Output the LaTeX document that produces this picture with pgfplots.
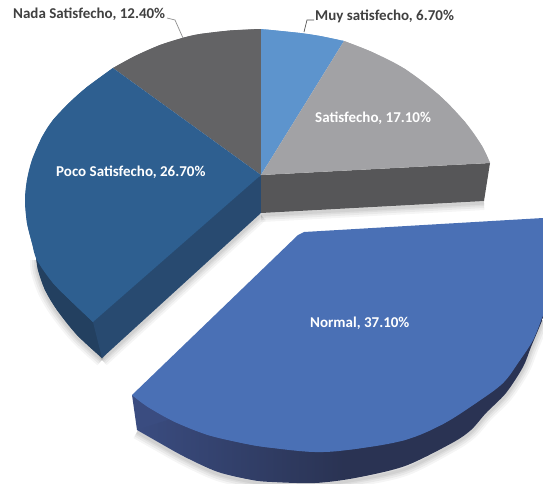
\documentclass[border=0pt]{standalone}
\usepackage{pgfplots}
\pgfplotsset{compat=1.18}
\usepackage{fontspec}
\setmainfont{Carlito}
\definecolor{muy}{HTML}{5D94CD}
\definecolor{sat}{HTML}{A2A2A5}
\definecolor{satside}{HTML}{565658}
\definecolor{nada}{HTML}{636365}
\definecolor{poco}{HTML}{2E5F90}
\definecolor{pocofront}{HTML}{284A70}
\definecolor{pocoside}{HTML}{234060}
\definecolor{norm}{HTML}{4A70B5}
\definecolor{normA}{HTML}{3A4C80}
\definecolor{normB}{HTML}{2A3353}
\definecolor{leader}{HTML}{8A8A8A}
% one slice: straight part plus a smooth fill over the arc
\newcommand{\slice}[3]{%
  \addplot[fill=#1, draw=none] coordinates {#2 #3};
  \addplot[fill=#1, draw=none, smooth, tension=0.6] coordinates {#3};}
% soft shadow along an edge
\newcommand{\soft}[2][]{%
  \addplot[draw=black, opacity=0.05, line width=3pt, #1] coordinates {#2};
  \addplot[draw=black, opacity=0.05, line width=6pt, #1] coordinates {#2};
  \addplot[draw=black, opacity=0.05, line width=10pt, #1] coordinates {#2};
  \addplot[draw=black, opacity=0.04, line width=14pt, #1] coordinates {#2};}
\tikzset{lab/.style={anchor=west, inner sep=0pt, font=\fontsize{15}{18}\selectfont\bfseries}}
\begin{document}
\begin{tikzpicture}
\useasboundingbox (0,0) rectangle (543pt,483pt);
\begin{axis}[
    scale only axis, width=543pt, height=483pt,
    xmin=0, xmax=543, ymin=0, ymax=483, y dir=reverse,
    hide axis, clip=true]
  % shadows
  \soft[smooth]{(37,260)(38,272)(45,292)(57,312)(77,337)(102,360)}
  \soft{(102,360)(261,215)}
  \soft{(261,215)(484,203)}
  \soft[smooth]{(137,432)(158,444)(185,459)(218,474)(252,482)(272,484)(315,485)(355,480)(405,469)(452,445)(471,432)(486,415)(506,395)(523,369)(531,349)(543,320)}
  % side faces
  \slice{pocoside}{(261,175)}{(36,256)(38,270)(45,290)(57,310)(77,335)(102,358)}
  \addplot[fill=pocofront, draw=none] coordinates
    {(261,175)(93,322)(102,358)(261,213)};
  \addplot[fill=satside, draw=none] coordinates
    {(261,175)(490,163)(484,201)(261,213)};
  \addplot[fill=normA, draw=none] coordinates
    {(132,395)(137,430)(200,425)(170,400)};
  \addplot[left color=normA, right color=normB, middle color=normB, draw=none, smooth] coordinates
    {(137,430)(158,442)(185,457)(218,472)(252,480)(272,482)(315,483)(355,478)(405,466)(452,443)(471,430)(486,413)(506,393)(523,367)(531,347)(543,318)(550,295)};
  % top faces
  \slice{nada}{(261,175)}{(261,29)(230,30.5)(200,34)(184,37.5)(160,45)(135,56)(113,68)}
  \slice{poco}{(261,175)}{(113,68)(87,87)(70,102)(53,120)(42,137)(32,160)(27,180)(25,200)(27,223)(32,243)(37,260)(53,283)(73,303)(93,322)}
  \slice{muy}{(261,175)}{(261,29)(300,33)(320,36)(344,41)}
  \slice{sat}{(261,175)}{(344,41)(372,52)(405,69)(439,95)(465,122)(482,146)(490,163)}
  \addplot[fill=norm, draw=none] coordinates
    {(132,395)(298,235)(304,232)(543,218)(565,217)(552,290)(543,315)(533,340)(520,360)(503,383)(476,403)(443,424)(405,440)(355,449)(315,452)(265,447)(242,443)(208,435)(175,422)(148,407)};
  \addplot[fill=norm, draw=none, smooth, tension=0.6] coordinates
    {(552,290)(543,315)(533,340)(520,360)(503,383)(476,403)(443,424)(405,440)(355,449)(315,452)(265,447)(242,443)(208,435)(175,422)(148,407)(132,395)};
  % leader lines
  \addplot[draw=leader, line width=0.7pt] coordinates {(183,38)(175,20)(167,18)};
  \addplot[draw=black!70, line width=0.7pt] coordinates {(304,32)(307,20)(314,20)};
  % labels
  \node[lab, text=black!75] at (axis cs:13,14) {Nada Satisfecho, 12.40\%};
  \node[lab, text=black!75] at (axis cs:315,16) {Muy satisfecho, 6.70\%};
  \node[lab, text=white] at (axis cs:315,118) {Satisfecho, 17.10\%};
  \node[lab, text=white] at (axis cs:56,172) {Poco Satisfecho, 26.70\%};
  \node[lab, text=white] at (axis cs:310,323) {Normal, 37.10\%};
\end{axis}
\end{tikzpicture}
\end{document}
